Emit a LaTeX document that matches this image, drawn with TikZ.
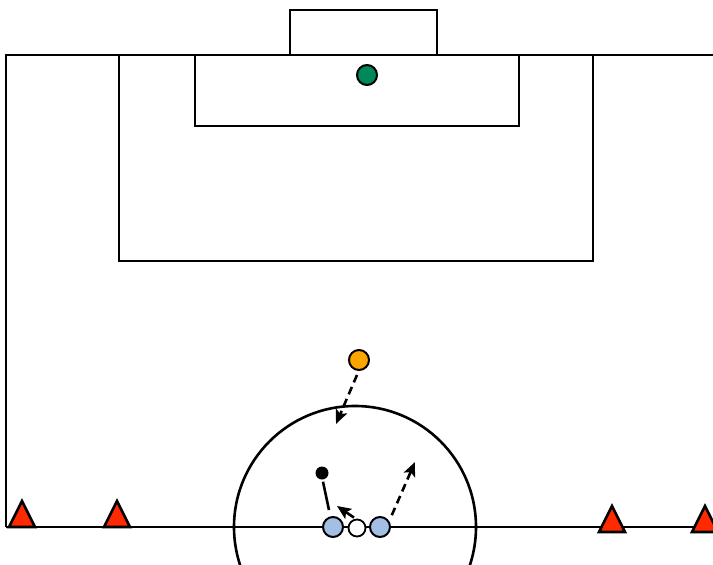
\documentclass[tikz,border=0pt]{standalone}
\usetikzlibrary{arrows.meta,calc}
\definecolor{conered}{HTML}{FF2A00}
\definecolor{keeper}{HTML}{00875A}
\definecolor{orangep}{HTML}{FFA500}
\definecolor{bluep}{HTML}{A3BFE3}
\tikzset{
  line/.style={line width=2.6pt},
  thinline/.style={line width=1.6pt},
  player/.style={circle,draw,line width=2pt,minimum size=20pt,inner sep=0pt},
  ballnode/.style={circle,draw,line width=1.8pt,fill=white,minimum size=17pt,inner sep=0pt},
  dotnode/.style={circle,fill=black,minimum size=13pt,inner sep=0pt},
  cone/.style={fill=conered,draw=black,line width=2.6pt,line join=miter},
  dasharrow/.style={line width=2.6pt,dash pattern=on 8pt off 5pt,-{Stealth[length=14pt,width=12pt,inset=3pt]}},
  solidarrow/.style={line width=2.6pt,-{Stealth[length=14pt,width=12pt,inset=3pt]}},
}
\begin{document}
\begin{tikzpicture}[x=1pt,y=-1pt]
\useasboundingbox (0,0) rectangle (713,565);
% field
\draw[line] (6,527) -- (6,55) -- (713,55);
\draw[line] (6,527) -- (713,527);
\draw[thinline] (290,55) -- (290,10) -- (437,10) -- (437,55);
\draw[line] (119,55) -- (119,261) -- (593,261) -- (593,55);
\draw[line] (195,55) -- (195,126) -- (519,126) -- (519,55);
\begin{scope}
\clip (0,0) rectangle (713,565);
\draw[line] (355,527) circle[radius=121];
\end{scope}
% cones
\draw[cone] (9,527) -- (22,501) -- (35,527) -- cycle;
\draw[cone] (104,527) -- (117,501) -- (130,527) -- cycle;
\draw[cone] (599,532) -- (612,506) -- (625,532) -- cycle;
\draw[cone] (692,532) -- (705,506) -- (718,532) -- cycle;
% players
\node[player,fill=keeper] (gk) at (367,75) {};
\node[player,fill=orangep] (op) at (359,360) {};
\node[player,fill=bluep] (b1) at (333,527) {};
\node[player,fill=bluep] (b2) at (380,527) {};
\node[ballnode] (ball) at (357,528) {};
\node[dotnode] (dot) at (322,473) {};
% movements
\coordinate (optgt) at (336,424);
\coordinate (b2tgt) at (415,462);
\coordinate (balltgt) at (337,506);
\draw[dasharrow] ($(op.south)+(-2,4)$) -- (optgt);
\draw[dasharrow] ($(b2.north east)+(4,-4)$) -- (b2tgt);
\draw[solidarrow] ($(ball.north)+(-3,-1)$) -- (balltgt);
\draw[line width=2.6pt] ($(dot.south)+(1,2)$) -- ($(b1.north)+(-4,-6)$);
\end{tikzpicture}
\end{document}
